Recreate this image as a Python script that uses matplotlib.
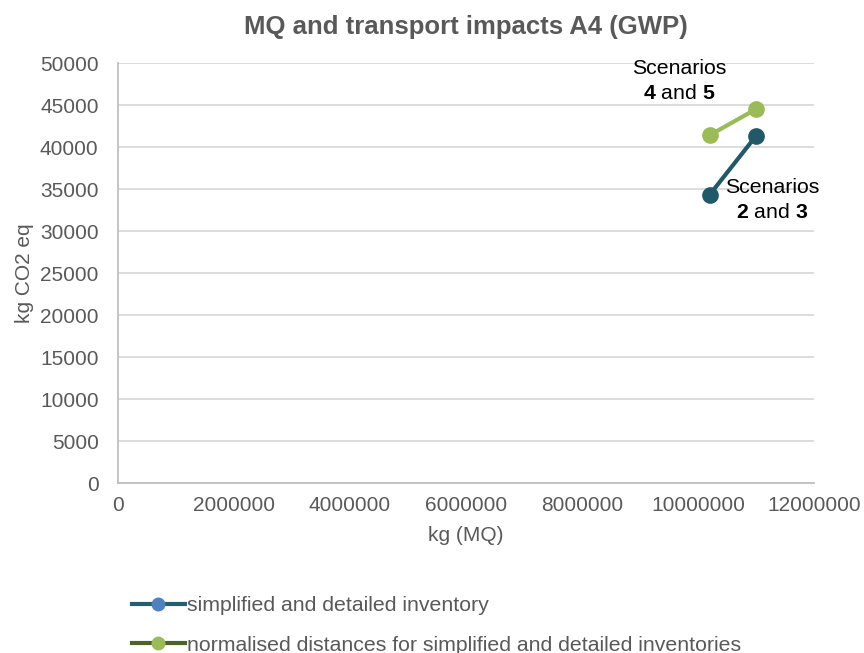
import matplotlib
matplotlib.use("Agg")
import matplotlib.pyplot as plt
from matplotlib.lines import Line2D

plt.rcParams['font.family'] = ['Liberation Sans', 'DejaVu Sans']
plt.rcParams['mathtext.fontset'] = 'custom'
plt.rcParams['mathtext.rm'] = 'Liberation Sans'
plt.rcParams['mathtext.bf'] = 'Liberation Sans:bold'

# data
mq_inventory = [10200000, 11000000]
gwp_inventory = [34300, 41300]
mq_normalised = [10200000, 11000000]
gwp_normalised = [41400, 44500]

series_labels = ["simplified and detailed inventory",
                 "normalised distances for simplified and detailed inventories"]
x_ticks = [0, 2000000, 4000000, 6000000, 8000000, 10000000, 12000000]
y_ticks = list(range(0, 50001, 5000))

teal = "#215968"
green = "#9BBB59"
grey = "#595959"

fig = plt.figure(figsize=(8.64, 6.53), dpi=100)
ax = fig.add_axes([0.1366, 0.2603, 0.8054, 0.6432])

ax.plot(mq_normalised, gwp_normalised, color=green, lw=3, marker='o', ms=11, zorder=3)
ax.plot(mq_inventory, gwp_inventory, color=teal, lw=3, marker='o', ms=11, zorder=3)

ax.set_xlim(0, 12000000)
ax.set_ylim(0, 50000)
ax.set_xticks(x_ticks)
ax.set_xticklabels([str(v) for v in x_ticks])
ax.set_yticks(y_ticks)
ax.set_yticklabels([str(v) for v in y_ticks])
ax.tick_params(axis='both', length=0, labelsize=15, labelcolor=grey)
ax.tick_params(axis='y', pad=14)
ax.tick_params(axis='x', pad=9)

ax.grid(axis='y', color='#D9D9D9', lw=1.3)
ax.set_axisbelow(True)
for s in ['top', 'right']:
    ax.spines[s].set_visible(False)
ax.spines['left'].set_color('#BFBFBF')
ax.spines['bottom'].set_color('#BFBFBF')
ax.spines['left'].set_linewidth(1.3)
ax.spines['bottom'].set_linewidth(1.3)

ax.set_title("MQ and transport impacts A4 (GWP)", fontsize=18.5, fontweight='bold',
             color=grey, pad=21)
ax.set_xlabel("kg (MQ)", fontsize=15, color=grey, labelpad=8)
ax.set_ylabel("kg CO2 eq", fontsize=15, color=grey, labelpad=4)

ax.text(9670000, 47900, "Scenarios\n$\\mathbf{4}$ and $\\mathbf{5}$", fontsize=15.3,
        ha='center', va='center', linespacing=1.4)
ax.text(11280000, 33700, "Scenarios\n$\\mathbf{2}$ and $\\mathbf{3}$", fontsize=15.3,
        ha='center', va='center', linespacing=1.4)

handles = [
    Line2D([], [], color="#255E6E", lw=3, marker='o', ms=9,
           markerfacecolor="#4F81BD", markeredgecolor="#4F81BD"),
    Line2D([], [], color="#4F6228", lw=3, marker='o', ms=9,
           markerfacecolor=green, markeredgecolor=green),
]
fig.legend(handles, series_labels, loc='upper left', bbox_to_anchor=(0.14, 0.103),
           frameon=False, fontsize=15.3, labelcolor=grey, handlelength=2.5,
           handletextpad=0.1, labelspacing=0.95, borderpad=0)

fig.savefig("out.png", dpi=100)
